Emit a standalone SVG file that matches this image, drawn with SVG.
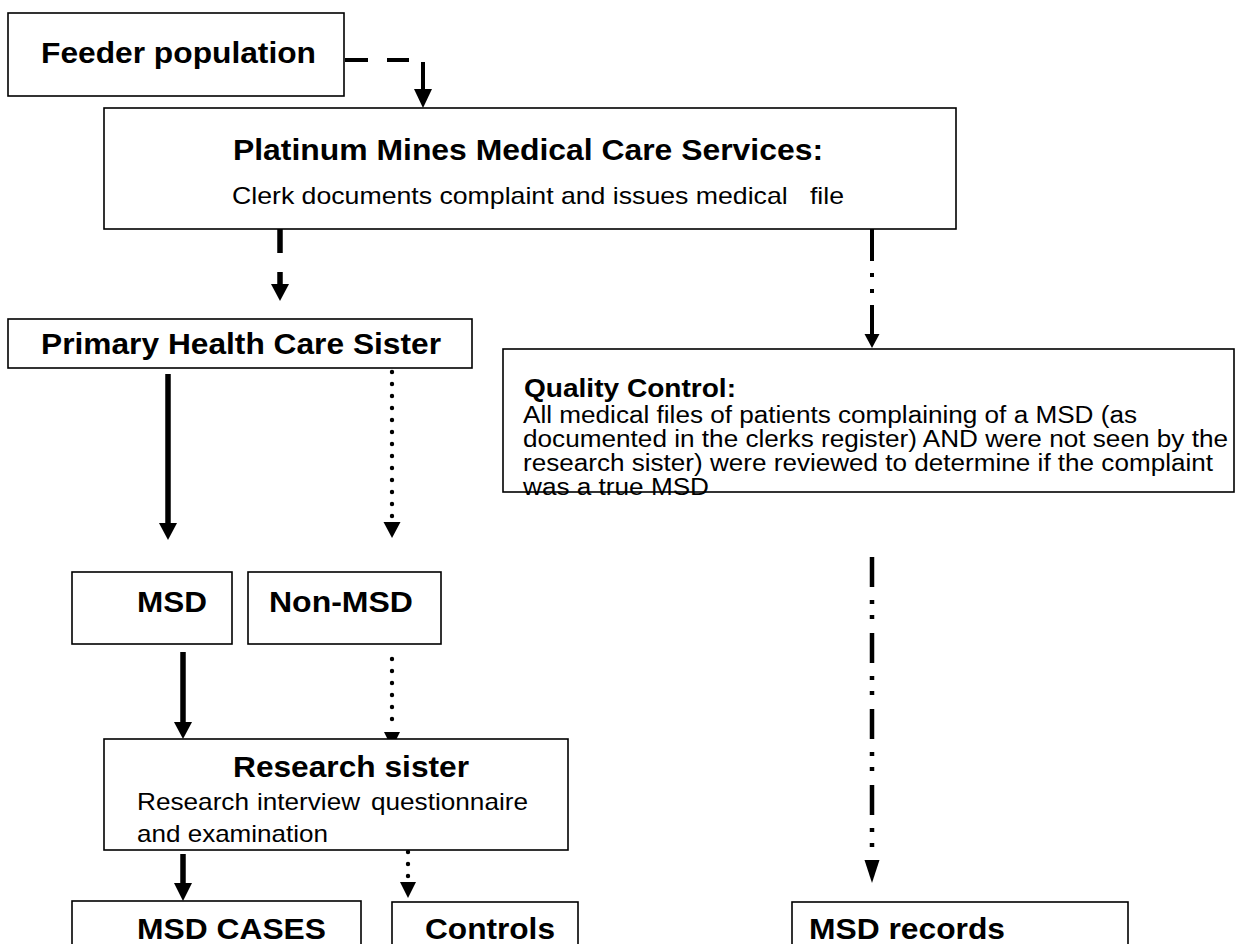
<svg xmlns="http://www.w3.org/2000/svg" width="1241" height="944" viewBox="0 0 1241 944">
<defs>
<style>
.box{fill:#fff;stroke:#000;stroke-width:1.6}
.b{font-family:"Liberation Sans",Arial,sans-serif;font-weight:bold;font-size:29px;fill:#000}
.r{font-family:"Liberation Sans",Arial,sans-serif;font-size:24px;fill:#000}
.s{font-family:"Liberation Sans",Arial,sans-serif;font-size:23px;fill:#000}
.q{font-family:"Liberation Sans",Arial,sans-serif;font-weight:bold;font-size:26px;fill:#000}
.solid{stroke:#000;stroke-width:5.5;fill:none}
.thin{stroke:#000;stroke-width:4;fill:none}
.dots{stroke:#000;stroke-width:4.4;stroke-linecap:round;stroke-dasharray:0 12;fill:none}
.dd{stroke:#000;stroke-width:4.5;stroke-dasharray:30 13 4 11 4 14;fill:none}
.head{fill:#000}
</style>
</defs>
<rect width="1241" height="944" fill="#fff"/>
<g id="connectors">
<line class="thin" x1="345" y1="60" x2="368" y2="60" stroke-width="4.5"/>
<line class="thin" x1="387" y1="60" x2="409" y2="60" stroke-width="4.5"/>
<line class="thin" x1="423" y1="62" x2="423" y2="91"/>
<polygon class="head" points="414,89 432,89 423,108"/>
<line class="solid" x1="280" y1="229" x2="280" y2="253" stroke-width="6"/>
<line class="solid" x1="280" y1="272" x2="280" y2="286" stroke-width="6"/>
<polygon class="head" points="271,284 289,284 280,301"/>
<line class="thin" x1="872" y1="229" x2="872" y2="261"/>
<rect x="870" y="273" width="4" height="4"/>
<rect x="870" y="289" width="4" height="4"/>
<line class="thin" x1="872" y1="305" x2="872" y2="336"/>
<polygon class="head" points="864.5,334 879.5,334 872,348"/>
<line class="solid" x1="168" y1="374" x2="168" y2="525"/>
<polygon class="head" points="159,523 177,523 168,540"/>
<line class="dots" x1="392" y1="372" x2="392" y2="517"/>
<polygon class="head" points="383.5,522 400.5,522 392,538"/>
<line class="solid" x1="183" y1="652" x2="183" y2="724"/>
<polygon class="head" points="174,722 192,722 183,739"/>
<line class="dots" x1="392" y1="659" x2="392" y2="720"/>
<polygon class="head" points="384,732 400,732 392,748"/>
<line class="solid" x1="183" y1="854" x2="183" y2="885"/>
<polygon class="head" points="174,883 192,883 183,901"/>
<line class="dots" x1="408" y1="852" x2="408" y2="877"/>
<polygon class="head" points="400,882 416,882 408,898"/>
<path class="dd" d="M872 557 V858"/>
<polygon class="head" points="864.5,860 879.5,860 872,883"/>
</g>
<g id="feeder">
<rect class="box" x="8" y="13" width="336" height="83"/>
<text class="b" x="41" y="63" textLength="275" lengthAdjust="spacingAndGlyphs">Feeder population</text>
</g>
<g id="platinum">
<rect class="box" x="104" y="108" width="852" height="121"/>
<text class="b" x="233" y="160" textLength="590" lengthAdjust="spacingAndGlyphs">Platinum Mines Medical Care Services:</text>
<text class="r" x="232" y="204" textLength="612" lengthAdjust="spacingAndGlyphs" xml:space="preserve">Clerk documents complaint and issues medical   file</text>
</g>
<g id="phcs">
<rect class="box" x="8" y="319" width="464" height="49"/>
<text class="b" x="41" y="354" textLength="400" lengthAdjust="spacingAndGlyphs">Primary Health Care Sister</text>
</g>
<g id="qc">
<rect class="box" x="503" y="349" width="731" height="143"/>
<text class="q" x="524" y="397" textLength="212" lengthAdjust="spacingAndGlyphs">Quality Control:</text>
<text class="s" x="523" y="423" textLength="614" lengthAdjust="spacingAndGlyphs">All medical files of patients complaining of a MSD (as</text>
<text class="s" x="523" y="447" textLength="705" lengthAdjust="spacingAndGlyphs">documented in the clerks register) AND were not seen by the</text>
<text class="s" x="523" y="471" textLength="690" lengthAdjust="spacingAndGlyphs">research sister) were reviewed to determine if the complaint</text>
<text class="s" x="523" y="495" textLength="186" lengthAdjust="spacingAndGlyphs">was a true MSD</text>
</g>
<g id="msd">
<rect class="box" x="72" y="572" width="160" height="72"/>
<text class="b" x="137" y="612" textLength="70" lengthAdjust="spacingAndGlyphs">MSD</text>
</g>
<g id="nonmsd">
<rect class="box" x="248" y="572" width="193" height="72"/>
<text class="b" x="269" y="612" textLength="144" lengthAdjust="spacingAndGlyphs">Non-MSD</text>
</g>
<g id="research">
<rect class="box" x="104" y="739" width="464" height="111"/>
<text class="b" x="233" y="777" textLength="236" lengthAdjust="spacingAndGlyphs">Research sister</text>
<text class="r" x="137" y="810" textLength="112" lengthAdjust="spacingAndGlyphs">Research</text>
<text class="r" x="257" y="810" textLength="103" lengthAdjust="spacingAndGlyphs">interview</text>
<text class="r" x="371" y="810" textLength="157" lengthAdjust="spacingAndGlyphs">questionnaire</text>
<text class="r" x="137" y="842" textLength="191" lengthAdjust="spacingAndGlyphs">and examination</text>
</g>
<g id="cases">
<rect class="box" x="72" y="901" width="289" height="80"/>
<text class="b" x="137" y="939" textLength="189" lengthAdjust="spacingAndGlyphs">MSD CASES</text>
</g>
<g id="controls">
<rect class="box" x="392" y="902" width="186" height="80"/>
<text class="b" x="425" y="939" textLength="130" lengthAdjust="spacingAndGlyphs">Controls</text>
</g>
<g id="records">
<rect class="box" x="792" y="902" width="336" height="80"/>
<text class="b" x="809" y="939" textLength="196" lengthAdjust="spacingAndGlyphs">MSD records</text>
</g>
</svg>
